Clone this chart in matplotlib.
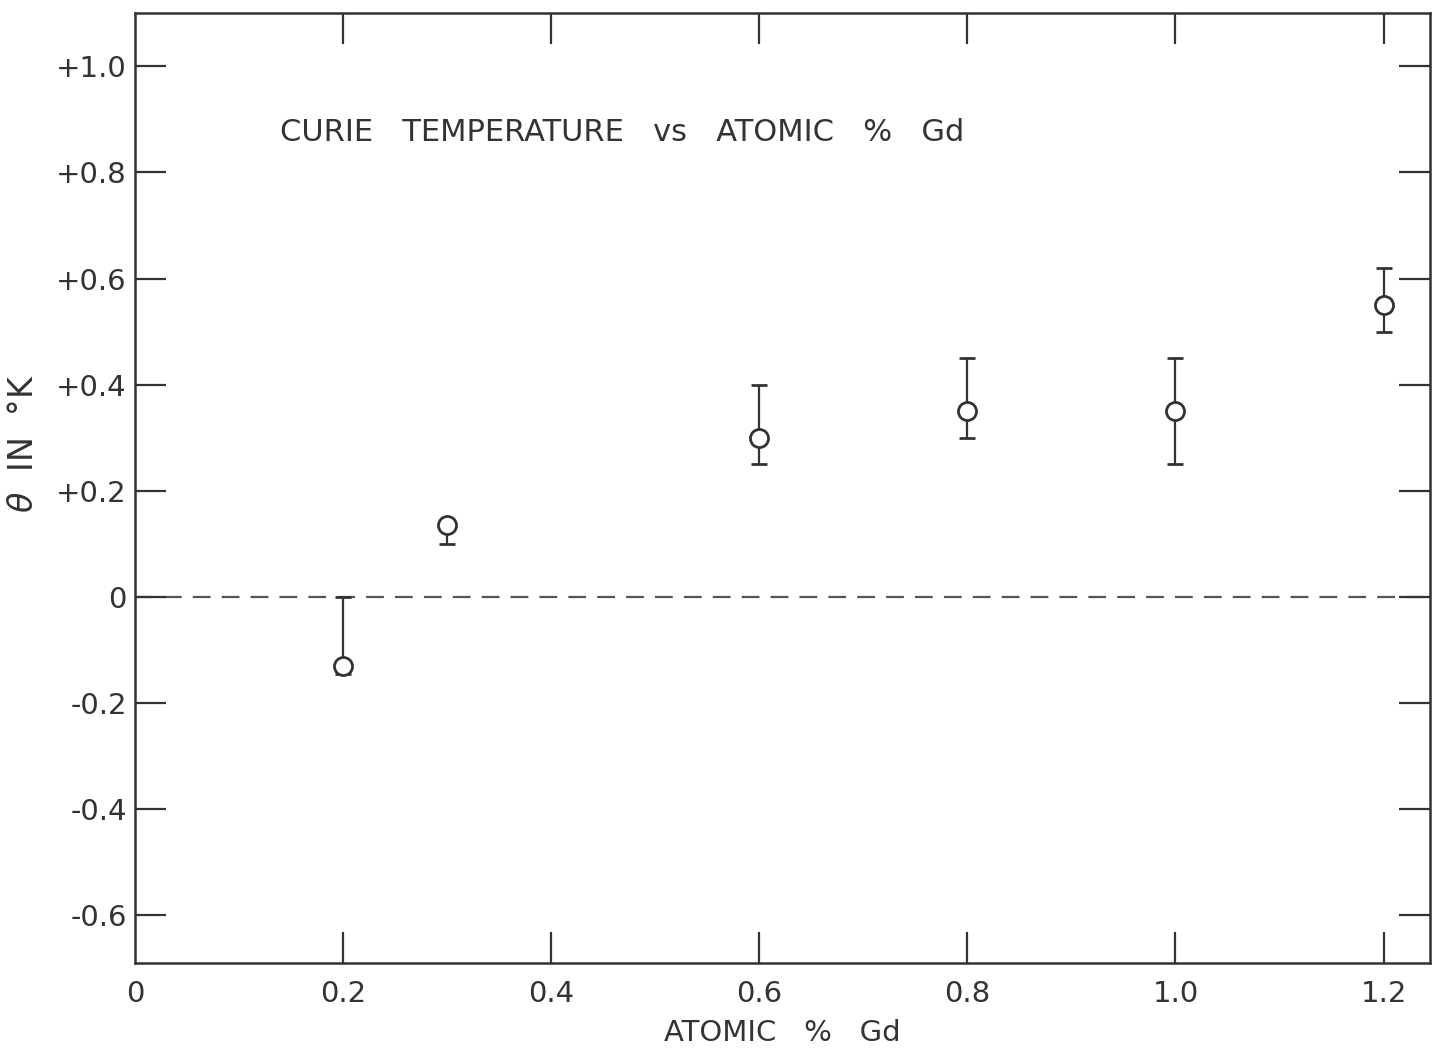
import matplotlib
matplotlib.use("Agg")
import matplotlib.pyplot as plt

# Curie temperature measurements vs gadolinium concentration
atomic_pct_gd = [0.2, 0.3, 0.6, 0.8, 1.0, 1.2]
theta_k = [-0.13, 0.135, 0.30, 0.35, 0.35, 0.55]
err_lower = [0.015, 0.035, 0.05, 0.05, 0.10, 0.05]
err_upper = [0.13, 0.005, 0.10, 0.10, 0.10, 0.07]

x_ticks = [0, 0.2, 0.4, 0.6, 0.8, 1.0, 1.2]
x_tick_labels = ["0", "0.2", "0.4", "0.6", "0.8", "1.0", "1.2"]
y_ticks = [1.0, 0.8, 0.6, 0.4, 0.2, 0, -0.2, -0.4, -0.6]
y_tick_labels = ["+1.0", "+0.8", "+0.6", "+0.4", "+0.2", "0", "-0.2", "-0.4", "-0.6"]

ink = "#333333"
plt.rcParams["font.family"] = ["DejaVu Sans"]

fig = plt.figure(figsize=(14.33, 10.60), dpi=100)
ax = fig.add_axes([0.0942, 0.0915, 0.904, 0.896])

ax.axhline(0, color="#555555", lw=1.6, dashes=(8, 5), zorder=1)

ax.errorbar(atomic_pct_gd, theta_k, yerr=[err_lower, err_upper],
            fmt="o", ms=13, mfc="white", mec=ink, mew=2.0,
            ecolor=ink, elinewidth=1.6, capsize=6, capthick=2.0, zorder=3)

ax.set_xlim(0, 1.245)
ax.set_ylim(-0.69, 1.10)

ax.set_xticks(x_ticks)
ax.set_xticklabels(x_tick_labels)
ax.set_yticks(y_ticks)
ax.set_yticklabels(y_tick_labels)

ax.tick_params(axis="both", direction="in", length=22, width=1.6, color=ink,
               labelsize=21, labelcolor=ink, top=True, right=True, pad=6)
ax.tick_params(axis="x", pad=12)

# the origin carries a label but no tick mark
first = ax.xaxis.get_major_ticks()[0]
first.tick1line.set_visible(False)
first.tick2line.set_visible(False)

for s in ax.spines.values():
    s.set_linewidth(1.8)
    s.set_color(ink)

ax.text(0.112, 0.874, "CURIE   TEMPERATURE   vs   ATOMIC   %   Gd",
        transform=ax.transAxes, fontsize=22, color=ink, va="center", ha="left")

ax.set_xlabel("ATOMIC   %   Gd", fontsize=21, color=ink, labelpad=8)
ax.set_ylabel(r"$\theta$  IN  °K", fontsize=24, color=ink, labelpad=2)
ax.yaxis.set_label_coords(-0.073, 0.547)

fig.savefig("out.png", dpi=100, facecolor="white")
